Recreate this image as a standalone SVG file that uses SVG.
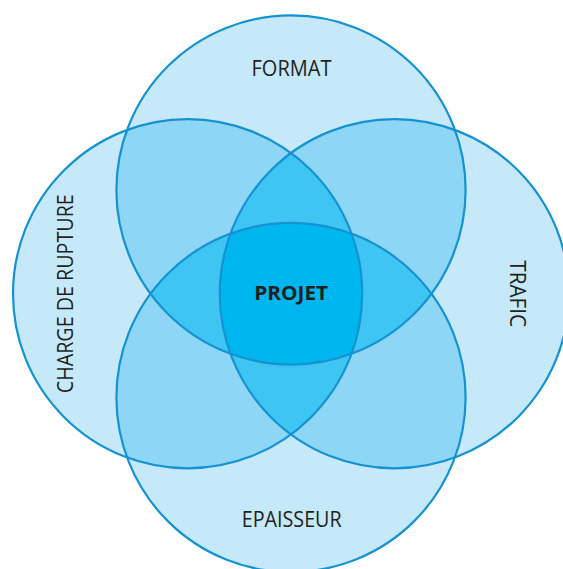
<svg xmlns="http://www.w3.org/2000/svg" xmlns:xlink="http://www.w3.org/1999/xlink" width="563" height="569" viewBox="0 0 563 569">
<style>
.ring{fill:none;stroke:#1592d2;stroke-width:2.2}
.f1{fill:#c5e9f9}
.f2{fill:#8dd6f5}
.f3{fill:#3fc5f2}
.f4{fill:#00b6ef}
.lbl{font-family:"Open Sans","Noto Sans",sans-serif;font-size:21px;fill:#231f20}
.bold{font-family:"Open Sans","Noto Sans",sans-serif;font-size:20px;font-weight:bold;fill:#231f20}
</style>
<defs>
<circle id="T" cx="291" cy="190" r="174.6"/>
<circle id="L" cx="187.6" cy="293.7" r="174.6"/>
<circle id="R" cx="394.4" cy="293.7" r="174.6"/>
<circle id="B" cx="291" cy="397.4" r="174.6"/>
<clipPath id="cT"><use xlink:href="#T"/></clipPath>
<clipPath id="cL"><use xlink:href="#L"/></clipPath>
<clipPath id="cR"><use xlink:href="#R"/></clipPath>
<clipPath id="cB"><use xlink:href="#B"/></clipPath>
</defs>
<g id="regions">
<g class="f1">
<use xlink:href="#T"/><use xlink:href="#L"/><use xlink:href="#R"/><use xlink:href="#B"/>
</g>
<g class="f2">
<g clip-path="url(#cT)"><use xlink:href="#L"/><use xlink:href="#R"/><use xlink:href="#B"/></g>
<g clip-path="url(#cL)"><use xlink:href="#R"/><use xlink:href="#B"/></g>
<g clip-path="url(#cR)"><use xlink:href="#B"/></g>
</g>
<g class="f3">
<g clip-path="url(#cT)"><g clip-path="url(#cL)"><use xlink:href="#R"/><use xlink:href="#B"/></g></g>
<g clip-path="url(#cT)"><g clip-path="url(#cR)"><use xlink:href="#B"/></g></g>
<g clip-path="url(#cL)"><g clip-path="url(#cR)"><use xlink:href="#B"/></g></g>
</g>
<g class="f4">
<g clip-path="url(#cT)"><g clip-path="url(#cL)"><g clip-path="url(#cR)"><use xlink:href="#B"/></g></g></g>
</g>
</g>
<g id="format"><use xlink:href="#T" class="ring"/><text class="lbl" x="291.5" y="75.5" text-anchor="middle" textLength="80" lengthAdjust="spacingAndGlyphs">FORMAT</text></g>
<g id="charge-de-rupture"><use xlink:href="#L" class="ring"/><text class="lbl" transform="translate(72.5,293.7) rotate(-90)" x="0" y="0" text-anchor="middle" textLength="199" lengthAdjust="spacingAndGlyphs">CHARGE DE RUPTURE</text></g>
<g id="trafic"><use xlink:href="#R" class="ring"/><text class="lbl" transform="translate(509.5,293.7) rotate(90)" x="0" y="0" text-anchor="middle" textLength="67" lengthAdjust="spacingAndGlyphs">TRAFIC</text></g>
<g id="epaisseur"><use xlink:href="#B" class="ring"/><text class="lbl" x="291.7" y="527.3" text-anchor="middle" textLength="100" lengthAdjust="spacingAndGlyphs">EPAISSEUR</text></g>
<g id="projet"><text class="bold" x="291.2" y="300" text-anchor="middle" textLength="74" lengthAdjust="spacingAndGlyphs">PROJET</text></g>
<g id="connectors"/>
</svg>
